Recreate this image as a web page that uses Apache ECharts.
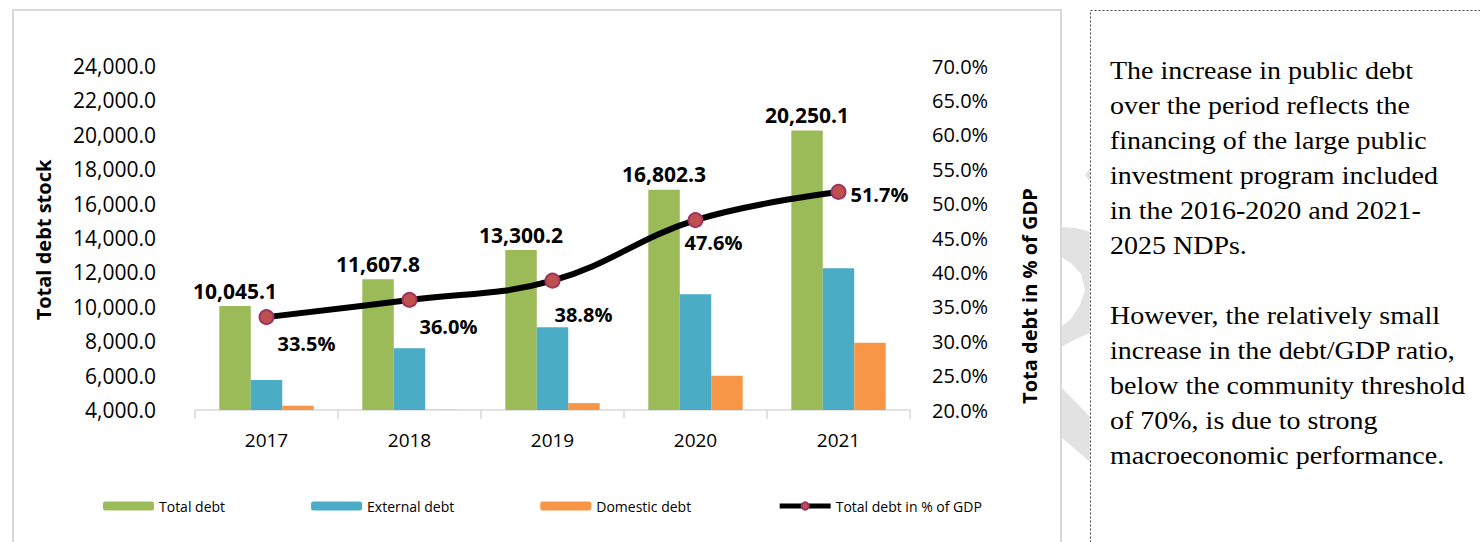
<!DOCTYPE html>
<html>
<head>
<meta charset="utf-8">
<script src="https://cdn.jsdelivr.net/npm/echarts@6/dist/echarts.min.js"></script>
<style>
  html, body { margin: 0; padding: 0; background: #fff; }
  #chart { width: 1480px; height: 542px; }
</style>
</head>
<body>
<div id="chart"></div>
<script>
// Public debt 2017-2021 (billions), with the debt-to-GDP ratio
const years = ['2017', '2018', '2019', '2020', '2021'];
const totalDebt = [10045.1, 11607.8, 13300.2, 16802.3, 20250.1];
const externalDebt = [5750, 7590, 8810, 10730, 12240];
const domesticDebt = [4250, 4010, 4400, 5990, 7910];
const debtToGdp = [33.5, 36.0, 38.8, 47.6, 51.7];

const seriesNames = ['Total debt', 'External debt', 'Domestic debt', 'Total debt in % of GDP'];
const leftAxisTitle = 'Total debt stock';
const rightAxisTitle = 'Tota debt in % of GDP';

const noteLines = [
  'The increase in public debt',
  'over the period reflects the',
  'financing of the large public',
  'investment program included',
  'in the 2016-2020 and 2021-',
  '2025 NDPs.',
  '',
  'However, the relatively small',
  'increase in the debt/GDP ratio,',
  'below the community threshold',
  'of 70%, is due to strong',
  'macroeconomic performance.'
];

const SANS = "'Open Sans', 'Noto Sans', sans-serif";
const fmtThousands = v => v.toLocaleString('en-US', { minimumFractionDigits: 1, maximumFractionDigits: 1 });

// where each ratio label sits relative to its marker
const ratioLabelOffsets = [[-2, 26], [-3, 27], [-11, 34], [-24, 22], [-1, 3]];

const chart = echarts.init(document.getElementById('chart'), null, { renderer: 'svg' });

chart.setOption({
  animation: false,
  backgroundColor: '#ffffff',
  grid: { left: 195, right: 570, top: 66, bottom: 132 },
  legend: {
    left: 98,
    top: 494,
    itemWidth: 51,
    itemHeight: 9,
    itemGap: 86,
    lineStyle: { width: 5 },
    textStyle: { fontFamily: SANS, fontSize: 14, color: '#000' },
    data: seriesNames
  },
  xAxis: {
    type: 'category',
    data: years,
    axisLine: { lineStyle: { color: '#d9d9d9', width: 1.5 } },
    axisTick: { show: true, length: 9, lineStyle: { color: '#d9d9d9', width: 1.5 } },
    axisLabel: { fontFamily: SANS, fontSize: 19, color: '#000', margin: 20 }
  },
  yAxis: [
    {
      type: 'value',
      min: 4000, max: 24000, interval: 2000,
      splitLine: { show: false },
      axisLine: { show: false },
      axisTick: { show: false },
      axisLabel: { fontFamily: SANS, fontSize: 21, color: '#000', margin: 39, formatter: v => fmtThousands(v) }
    },
    {
      type: 'value',
      min: 20, max: 70, interval: 5,
      splitLine: { show: false },
      axisLine: { show: false },
      axisTick: { show: false },
      axisLabel: { fontFamily: SANS, fontSize: 20, color: '#000', margin: 22, formatter: v => v.toFixed(1) + '%' }
    }
  ],
  series: [
    {
      name: seriesNames[0],
      type: 'bar',
      data: totalDebt,
      barGap: '0%',
      barCategoryGap: '34%',
      itemStyle: { color: '#9bbb59' },
      label: {
        show: true, position: 'top', distance: 5,
        fontFamily: SANS, fontSize: 21, fontWeight: 'bold', color: '#000',
        formatter: p => fmtThousands(p.value)
      }
    },
    {
      name: seriesNames[1],
      type: 'bar',
      data: externalDebt,
      itemStyle: { color: '#4bacc6' }
    },
    {
      name: seriesNames[2],
      type: 'bar',
      data: domesticDebt,
      itemStyle: { color: '#f79646' }
    },
    {
      name: seriesNames[3],
      type: 'line',
      yAxisIndex: 1,
      smooth: 0.4,
      data: debtToGdp.map((v, i) => ({
        value: v,
        label: { offset: ratioLabelOffsets[i] }
      })),
      symbol: 'circle',
      symbolSize: 14,
      lineStyle: { color: '#000', width: 6 },
      itemStyle: { color: '#c0504d', borderColor: '#9c3562', borderWidth: 2 },
      label: {
        show: true, position: 'right', distance: 5,
        fontFamily: SANS, fontSize: 20, fontWeight: 'bold', color: '#000',
        formatter: p => p.value.toFixed(1) + '%'
      },
      z: 5
    }
  ],
  graphic: [
    // faint background mark between the chart frame and the note box
    {
      type: 'polygon', silent: true, z: -10,
      shape: { points: [[1085, 175], [1090, 168], [1090, 181]] },
      style: { fill: '#e2e2e2' }
    },
    {
      type: 'polygon', silent: true, z: -10,
      shape: { points: [
        [1061, 227], [1076, 228], [1090, 232], [1090, 333], [1076, 339], [1061, 347],
        [1061, 327], [1071, 319], [1080, 305], [1085, 290], [1081, 274], [1071, 263], [1061, 257]
      ] },
      style: { fill: '#e2e2e2' }
    },
    {
      type: 'polygon', silent: true, z: -10,
      shape: { points: [[1061, 387], [1090, 417], [1090, 462], [1061, 437]] },
      style: { fill: '#e2e2e2' }
    },
    // chart frame
    {
      type: 'rect', silent: true, z: -5,
      shape: { x: 13, y: 10, width: 1048, height: 560 },
      style: { fill: 'none', stroke: '#d9d9d9', lineWidth: 2 }
    },
    // note box
    {
      type: 'rect', silent: true, z: -5,
      shape: { x: 1090.5, y: 10.5, width: 420, height: 560 },
      style: { fill: 'none', stroke: '#444', lineWidth: 1, lineDash: [2, 2] }
    },
    {
      type: 'text', silent: true,
      x: 1110, y: 53, scaleX: 1.12,
      style: {
        x: 0, y: 0,
        text: noteLines.join('\n'),
        font: "25px 'Liberation Serif', serif",
        lineHeight: 35,
        fill: '#000',
        verticalAlign: 'top'
      }
    },
    // axis titles
    {
      type: 'text', silent: true,
      x: 43, y: 240, rotation: Math.PI / 2,
      style: {
        text: leftAxisTitle,
        font: "bold 20px 'Open Sans', sans-serif",
        fill: '#000', align: 'center', verticalAlign: 'middle'
      }
    },
    {
      type: 'text', silent: true,
      x: 1029, y: 296, rotation: Math.PI / 2,
      style: {
        text: rightAxisTitle,
        font: "bold 20px 'Open Sans', sans-serif",
        fill: '#000', align: 'center', verticalAlign: 'middle'
      }
    }
  ]
});
</script>
</body>
</html>
